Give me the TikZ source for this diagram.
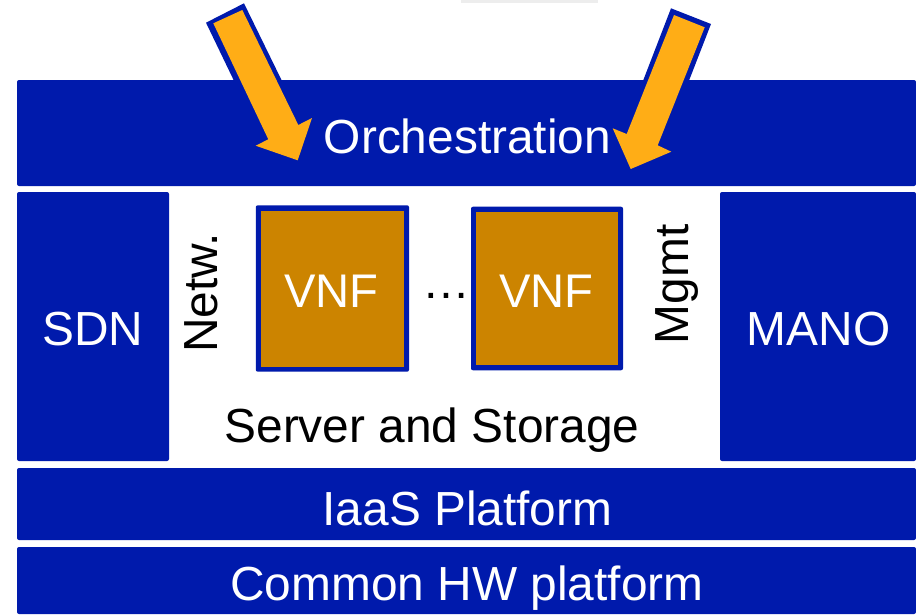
\documentclass[tikz,border=0pt]{standalone}
\usepackage{fontspec}
\setmainfont{Liberation Sans}
\definecolor{navy}{HTML}{001AAC}
\definecolor{amber}{HTML}{FFAD16}
\definecolor{vnfgold}{HTML}{CC8400}
\tikzset{
 x=1pt,y=-1pt,
 bluebox/.style={fill=navy,draw=none,rounded corners=2pt,inner sep=0pt},
 bluetext/.style={text=white,font=\fontsize{47.85}{48}\selectfont,inner sep=0pt},
 vnfouter/.style={fill=navy,draw=none,rounded corners=2pt,inner sep=0pt,outer sep=0pt},
 vnfinner/.style={fill=vnfgold,draw=none,inner sep=0pt,outer sep=0pt},
 vnftext/.style={text=white,font=\fontsize{47.2}{48}\selectfont,inner sep=0pt},
 plainlabel/.style={text=black,font=\fontsize{47.85}{48}\selectfont,inner sep=0pt},
 arrowfill/.style={fill=amber,draw=none},
 arrowedge/.style={fill=navy,draw=none}
}
\begin{document}
\begin{tikzpicture}
\useasboundingbox (0,0) rectangle (916,614);
\fill[white] (0,0) rectangle (916,614);
\fill[black!7] (461,0) rectangle (598,3);
\node[bluebox,minimum width=899pt,minimum height=106pt] (orch) at (466.5,133) {};
\node[bluetext] (orchlabel) at (467.5,136) {Orchestration};
\node[bluebox,minimum width=152pt,minimum height=269pt] (sdn) at (93,326.5) {};
\node[bluetext] (sdnlabel) at (93,329) {SDN};
\node[bluebox,minimum width=196pt,minimum height=269pt] (mano) at (818,326.5) {};
\node[bluetext] (manolabel) at (818.5,329) {MANO};
\node[bluebox,minimum width=899pt,minimum height=72pt] (iaas) at (466.5,504) {};
\node[bluetext] (iaaslabel) at (467.5,508) {IaaS Platform};
\node[bluebox,minimum width=899pt,minimum height=67pt] (hw) at (466.5,580.5) {};
\node[bluetext] (hwlabel) at (467,588) {Common HW platform};
\node[vnfouter,minimum width=153.3pt,minimum height=166.4pt] (vnf1) at (332.4,288.5) {};
\node[vnfinner,minimum width=143.3pt,minimum height=156pt] (vnf1in) at (332.6,288.7) {};
\node[vnftext] (vnf1label) at (331.5,291) {VNF};
\node[vnfouter,minimum width=152pt,minimum height=163.6pt] (vnf2) at (547,288.5) {};
\node[vnfinner,minimum width=142pt,minimum height=153pt] (vnf2in) at (547,288.5) {};
\node[vnftext] (vnf2label) at (546.5,291) {VNF};
\node[plainlabel,anchor=base] (dots) at (446,298) {…};
\node[plainlabel,rotate=90] (netw) at (201.5,293) {Netw.};
\node[plainlabel,rotate=90] (mgmt) at (677,284.5) {Mgmt};
\node[plainlabel] (server) at (432,430) {Server and Storage};
% left arrow
\fill[arrowedge] (206,22.7) -- (244,3.3) -- (303.5,125) -- (262,139) -- cycle;
\fill[arrowfill] (213.3,23.3) -- (242.3,10) -- (298.3,125) -- (312,118) -- (297.7,160.3) -- (255.7,145.7) -- (268.3,139.3) -- cycle;
% right arrow
\fill[arrowedge] (671,8.3) -- (711,24) -- (664,145) -- (622.5,134) -- cycle;
\fill[arrowfill] (674,15) -- (704.7,27.3) -- (657.7,145.3) -- (671.3,151.7) -- (630.7,169) -- (612.7,128.3) -- (626.7,134) -- cycle;
\end{tikzpicture}
\end{document}
